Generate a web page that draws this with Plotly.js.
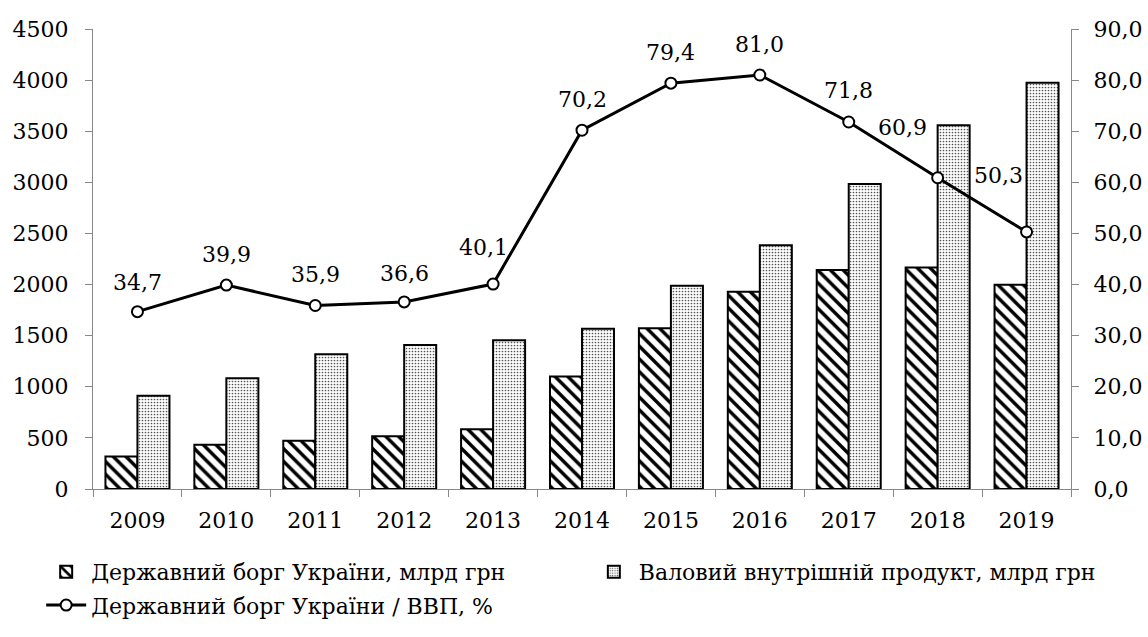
<!DOCTYPE html>
<html>
<head>
<meta charset="utf-8">
<script src="https://cdn.plot.ly/plotly-3.0.1.min.js"></script>
<style>html,body{margin:0;padding:0;background:#fff;}#chart{width:1148px;height:637px;}</style>
</head>
<body>
<div id="chart"></div>
<script>
const years = [2009, 2010, 2011, 2012, 2013, 2014, 2015, 2016, 2017, 2018, 2019];
const debt = [317, 432, 473, 516, 585, 1101, 1572, 1930, 2142, 2168, 1998];
const gdp = [913, 1083, 1317, 1409, 1455, 1567, 1989, 2385, 2983, 3559, 3975];
const ratio = [34.7, 39.9, 35.9, 36.6, 40.1, 70.2, 79.4, 81.0, 71.8, 60.9, 50.3];
const ratioLabels = ['34,7','39,9','35,9','36,6','40,1','70,2','79,4','81,0','71,8','60,9','50,3'];
const leftTicks = [0,500,1000,1500,2000,2500,3000,3500,4000,4500];
const rightTicks = [0,10,20,30,40,50,60,70,80,90];
const rightTickText = ['0,0','10,0','20,0','30,0','40,0','50,0','60,0','70,0','80,0','90,0'];

// label offsets (px) — styling only
const labelDX = [0,0,0,0,-10,0,0,0,0,-35,-28];
const labelDY = [29,31,31,28,37,31,31,31,32,50,56];

const FONT = 'DejaVu Serif';
const FS = 22;

const traces = [
  {
    type: 'bar', name: 'Державний борг України, млрд грн', legend: 'legend',
    x: years, y: debt, yaxis: 'y',
    marker: {color: '#ffffff', line: {color: '#000', width: 2},
      pattern: {shape: '\\', size: 9, solidity: 0.38, fgcolor: '#000', bgcolor: '#fff'}},
    hoverinfo: 'skip'
  },
  {
    type: 'bar', name: 'Валовий внутрішній продукт, млрд грн', legend: 'legend2',
    x: years, y: gdp, yaxis: 'y',
    marker: {color: '#ffffff', line: {color: '#000', width: 2},
      pattern: {shape: '.', size: 3, solidity: 0.25, fgcolor: '#555', bgcolor: '#fff'}},
    hoverinfo: 'skip'
  },
  {
    type: 'scatter', mode: 'lines+markers', name: 'Державний борг України / ВВП, %', legend: 'legend3',
    x: years, y: ratio, yaxis: 'y2',
    line: {color: '#000', width: 3},
    marker: {symbol: 'circle', size: 11, color: '#fff', line: {color: '#000', width: 2}},
    hoverinfo: 'skip'
  }
];

const annotations = years.map((yr, i) => ({
  x: yr, y: ratio[i], xref: 'x', yref: 'y2',
  text: ratioLabels[i], showarrow: false,
  xshift: labelDX[i], yshift: labelDY[i],
  font: {family: FONT, size: FS, color: '#000'}
}));

const axisColor = '#888';
const legendBase = {orientation: 'v', xanchor: 'left', yanchor: 'middle', itemwidth: 40,
  font: {family: FONT, size: FS, color: '#000'}, bgcolor: 'rgba(0,0,0,0)'};

const layout = {
  width: 1148, height: 637,
  margin: {l: 93, r: 77, t: 29, b: 147},
  paper_bgcolor: '#fff', plot_bgcolor: '#fff',
  font: {family: FONT, size: FS, color: '#000'},
  barmode: 'group', bargap: 0.28, bargroupgap: 0,
  showlegend: true,
  legend: Object.assign({}, legendBase, {x: -0.053, y: -0.178}),
  legend2: Object.assign({}, legendBase, {x: 0.507, y: -0.178}),
  legend3: Object.assign({}, legendBase, {x: -0.053, y: -0.25}),
  xaxis: {
    type: 'linear', range: [2008.5, 2019.5],
    tickvals: years, ticktext: years.map(String), ticks: '',
    showgrid: false, zeroline: false,
    showline: true, linecolor: axisColor, linewidth: 1,
    minor: {ticks: 'outside', tick0: 2008.5, dtick: 1, ticklen: 7, tickcolor: axisColor, showgrid: false},
    tickangle: 0, ticklabelstandoff: 12,
    tickfont: {family: FONT, size: FS, color: '#000'}
  },
  yaxis: {
    range: [0, 4500], tickvals: leftTicks, ticktext: leftTicks.map(String),
    showgrid: false, zeroline: false,
    showline: true, linecolor: axisColor, linewidth: 1,
    ticks: 'outside', ticklen: 7, tickcolor: axisColor, ticklabelstandoff: 12,
    tickfont: {family: FONT, size: FS, color: '#000'}
  },
  yaxis2: {
    overlaying: 'y', side: 'right', range: [0, 90],
    tickvals: rightTicks, ticktext: rightTickText,
    showgrid: false, zeroline: false,
    showline: true, linecolor: axisColor, linewidth: 1,
    ticks: 'outside', ticklen: 7, tickcolor: axisColor, ticklabelstandoff: 10,
    tickfont: {family: FONT, size: FS, color: '#000'}
  },
  annotations: annotations
};

Plotly.newPlot('chart', traces, layout, {staticPlot: true, displayModeBar: false});
</script>
</body>
</html>
